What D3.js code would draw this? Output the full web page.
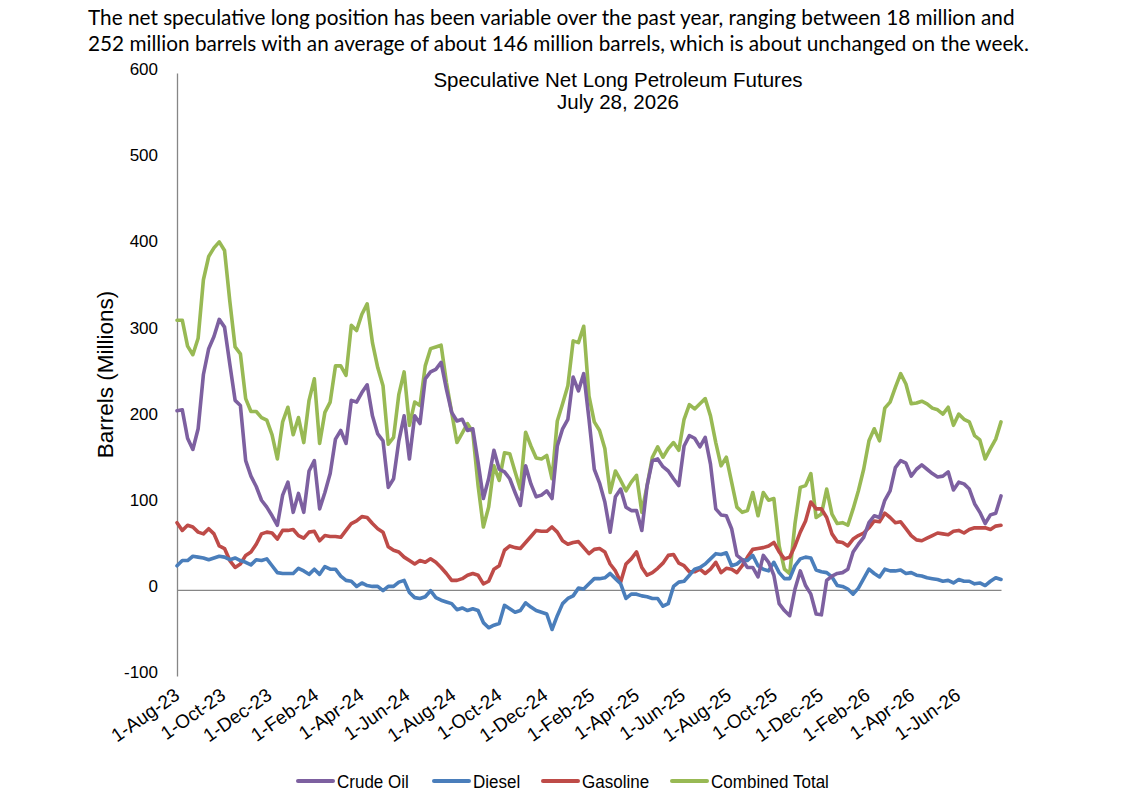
<!DOCTYPE html>
<html>
<head>
<meta charset="utf-8">
<script src="https://cdn.jsdelivr.net/npm/d3@7"></script>
<style>
  body { margin: 0; background: #fff; }
  .note { font-family: Lato, "Open Sans", sans-serif; font-size: 20.75px; fill: #000; }
  .chart-title { font-family: "Liberation Sans", Arial, sans-serif; font-size: 20.5px; fill: #000; }
  .axis-label { font-family: "Liberation Sans", Arial, sans-serif; font-size: 22.5px; fill: #000; }
  .tick-text { font-family: "Liberation Sans", Arial, sans-serif; font-size: 17px; fill: #000; }
  .legend-text { font-family: "Liberation Sans", Arial, sans-serif; font-size: 18.5px; fill: #000; }
</style>
</head>
<body>
<div id="chart"></div>
<script>
// weekly positions, Tuesdays, 1-Aug-23 .. 28-Jul-26 (millions of barrels)
const firstWeek = "2023-08-01";
const lastWeek = "2026-07-28";

const crude = [
  208, 209, 176, 163, 187, 250, 280, 294, 314, 305, 262, 220, 214, 150, 132, 120, 104, 96, 86, 75,
  110, 125, 90, 112, 90, 138, 150, 94, 113, 135, 175, 185, 170, 220, 218, 229, 238, 202, 181, 173,
  119, 129, 173, 202, 152, 202, 193, 245, 253, 256, 264, 233, 206, 196, 198, 185, 187, 148, 106, 129,
  162, 140, 137, 129, 113, 98, 144, 123, 108, 110, 115, 106, 167, 187, 198, 247, 231, 251, 198, 140,
  124, 102, 67, 108, 117, 96, 92, 92, 69, 121, 150, 152, 143, 138, 129, 121, 167, 179, 176, 166,
  177, 146, 94, 87, 86, 71, 40, 35, 26, 26, 15, 40, 32, 17, -16, -24, -30, 1, 22, 5,
  -5, -28, -29, 11, 16, 19, 20, 24, 44, 53, 61, 78, 86, 84, 104, 115, 142, 150, 147, 132,
  140, 145, 140, 135, 131, 132, 137, 116, 125, 123, 117, 100, 90, 77, 87, 89, 109
];

const diesel = [
  28, 34, 34, 39, 38, 37, 35, 37, 39, 38, 35, 37, 34, 32, 29, 35, 34, 36, 28, 20,
  19, 19, 19, 25, 22, 18, 24, 18, 27, 24, 24, 16, 11, 10, 4, 8, 5, 4, 4, -1,
  4, 4, 9, 11, -3, -9, -10, -8, -1, -9, -12, -14, -16, -23, -21, -24, -22, -24, -38, -44,
  -41, -39, -18, -22, -26, -24, -15, -20, -24, -26, -28, -46, -30, -16, -10, -7, 2, 1, 7, 13,
  13, 14, 19, 13, 7, -10, -5, -5, -7, -8, -10, -10, -19, -16, 4, 9, 10, 17, 24, 26,
  30, 36, 42, 41, 43, 28, 30, 35, 34, 40, 28, 24, 22, 32, 20, 13, 13, 28, 36, 38,
  37, 23, 21, 20, 15, 5, 4, 1, -5, 2, 13, 24, 19, 15, 24, 22, 22, 23, 19, 20,
  17, 16, 14, 13, 12, 10, 11, 8, 12, 10, 10, 7, 8, 5, 10, 14, 12
];

const gasoline = [
  78, 69, 75, 73, 67, 65, 71, 65, 51, 48, 34, 26, 30, 40, 44, 53, 65, 67, 66, 59,
  69, 69, 70, 63, 60, 67, 68, 57, 63, 62, 62, 61, 69, 77, 80, 85, 84, 77, 71, 67,
  50, 46, 44, 38, 34, 30, 34, 32, 36, 32, 26, 19, 11, 11, 13, 17, 19, 17, 7, 10,
  24, 28, 46, 51, 49, 48, 55, 62, 69, 68, 68, 73, 67, 57, 53, 55, 56, 49, 42, 47,
  48, 44, 30, 22, 9, 30, 36, 44, 26, 17, 20, 25, 31, 40, 41, 31, 28, 21, 21, 24,
  19, 24, 32, 20, 25, 24, 20, 28, 38, 47, 48, 49, 51, 55, 44, 36, 38, 51, 67, 80,
  102, 94, 94, 84, 65, 56, 55, 51, 59, 63, 66, 72, 80, 79, 89, 84, 78, 79, 71, 63,
  58, 57, 60, 63, 66, 65, 64, 68, 69, 66, 70, 72, 72, 72, 70, 74, 75
];

const combined = [
  313, 313, 283, 273, 292, 360, 387, 397, 404, 394, 335, 282, 274, 222, 207, 207, 200, 197, 180, 152,
  195, 212, 180, 200, 171, 220, 245, 170, 206, 218, 260, 260, 249, 307, 301, 320, 332, 287, 258, 237,
  169, 177, 227, 253, 191, 218, 214, 260, 280, 282, 284, 241, 206, 171, 182, 193, 183, 121, 73, 96,
  144, 127, 159, 158, 137, 117, 183, 167, 153, 152, 156, 129, 196, 216, 237, 289, 287, 306, 225, 195,
  185, 164, 113, 138, 127, 115, 125, 133, 90, 121, 154, 166, 154, 164, 171, 162, 198, 215, 210, 216,
  222, 202, 171, 144, 154, 125, 96, 90, 92, 113, 86, 113, 104, 106, 51, 24, 19, 77, 119, 121,
  135, 84, 88, 117, 88, 77, 78, 75, 94, 115, 140, 173, 187, 173, 211, 218, 235, 251, 239, 216,
  217, 219, 216, 211, 209, 204, 212, 191, 204, 198, 195, 179, 174, 152, 164, 175, 195
];

const seriesNames = ["Crude Oil", "Diesel", "Gasoline", "Combined Total"];
const seriesColors = ["#7D60A0", "#4A7EBB", "#BE4B48", "#98B954"];

const xTickLabels = [
  "1-Aug-23", "1-Oct-23", "1-Dec-23", "1-Feb-24", "1-Apr-24", "1-Jun-24",
  "1-Aug-24", "1-Oct-24", "1-Dec-24", "1-Feb-25", "1-Apr-25", "1-Jun-25",
  "1-Aug-25", "1-Oct-25", "1-Dec-25", "1-Feb-26", "1-Apr-26", "1-Jun-26"
];
const yTicks = [-100, 0, 100, 200, 300, 400, 500, 600];

const noteLines = [
  "The net speculative long position has been variable over the past year, ranging between 18 million and",
  "252 million barrels with an average of about 146 million barrels, which is about unchanged on the week."
];
const chartTitle = ["Speculative Net Long Petroleum Futures", "July 28, 2026"];

const W = 1147, H = 811;
const plot = { left: 177, right: 1001, top: 73, bottom: 676 };

const parseIso = d3.timeParse("%Y-%m-%d");
const parseTick = d3.timeParse("%d-%b-%y");
const start = parseIso(firstWeek);
const end = parseIso(lastWeek);
const weeks = d3.timeTuesday.range(start, d3.timeDay.offset(end, 1));

const svg = d3.select("#chart")
  .append("svg")
    .attr("width", W)
    .attr("height", H);

svg.append("rect").attr("width", W).attr("height", H).attr("fill", "#fff");

const x = d3.scaleTime()
  .domain([start, end])
  .range([plot.left, plot.right]);

const y = d3.scaleLinear()
  .domain([-100, 600])
  .range([plot.bottom, plot.top]);

// note above chart
svg.selectAll(".note")
  .data(noteLines)
  .enter().append("text")
    .attr("class", "note")
    .attr("x", 88)
    .attr("y", (d, i) => 25 + i * 26)
    .text(d => d);

// chart title
svg.selectAll(".chart-title")
  .data(chartTitle)
  .enter().append("text")
    .attr("class", "chart-title")
    .attr("text-anchor", "middle")
    .attr("x", 618)
    .attr("y", (d, i) => 87 + i * 22)
    .text(d => d);

// y axis (plain hyphen for negatives, as in the source)
const yAxis = svg.append("g")
  .attr("transform", `translate(${plot.left},0)`)
  .call(d3.axisLeft(y).tickValues(yTicks).tickSize(0).tickPadding(19).tickFormat(d => String(d)));
yAxis.select(".domain").attr("stroke", "#868686").attr("stroke-width", 1.3);
yAxis.selectAll("text").attr("class", "tick-text").attr("fill", "#000").attr("dy", "0.1em");

svg.append("text")
  .attr("class", "axis-label")
  .attr("text-anchor", "middle")
  .attr("transform", `translate(113,${y(250)}) rotate(-90)`)
  .text("Barrels (Millions)");

// zero line with date labels
const xAxis = svg.append("g")
  .attr("transform", `translate(0,${y(0)})`)
  .call(d3.axisBottom(x).tickValues(xTickLabels.map(parseTick)).tickSize(0).tickFormat(""));
xAxis.select(".domain").attr("stroke", "#868686").attr("stroke-width", 1.3);

svg.selectAll(".x-label")
  .data(xTickLabels)
  .enter().append("text")
    .attr("class", "tick-text x-label")
    .attr("text-anchor", "end")
    .attr("transform", d => `translate(${x(parseTick(d)) + 4},${plot.bottom + 22}) rotate(-35)`)
    .style("font-size", "19px")
    .text(d => d);

// lines
const allSeries = [crude, diesel, gasoline, combined];
const line = d3.line()
  .x((d, i) => x(weeks[i]))
  .y(d => y(d));

// draw order: total underneath, crude on top
const drawOrder = [3, 2, 1, 0];
svg.append("g")
  .selectAll("path")
  .data(drawOrder)
  .enter().append("path")
    .attr("fill", "none")
    .attr("stroke", k => seriesColors[k])
    .attr("stroke-width", 3.6)
    .attr("stroke-linejoin", "round")
    .attr("stroke-linecap", "round")
    .attr("d", k => line(allSeries[k]));

// legend
const legendX = [296, 432, 541, 670];
const legend = svg.append("g");
const item = legend.selectAll("g")
  .data(seriesNames)
  .enter().append("g")
    .attr("transform", (d, i) => `translate(${legendX[i]},781)`);
item.append("line")
  .attr("x1", 2).attr("x2", 37)
  .attr("stroke", (d, i) => seriesColors[i])
  .attr("stroke-width", 4)
  .attr("stroke-linecap", "round");
item.append("text")
  .attr("class", "legend-text")
  .attr("transform", "translate(41,6.5) scale(0.92,1)")
  .text(d => d);
</script>
</body>
</html>
